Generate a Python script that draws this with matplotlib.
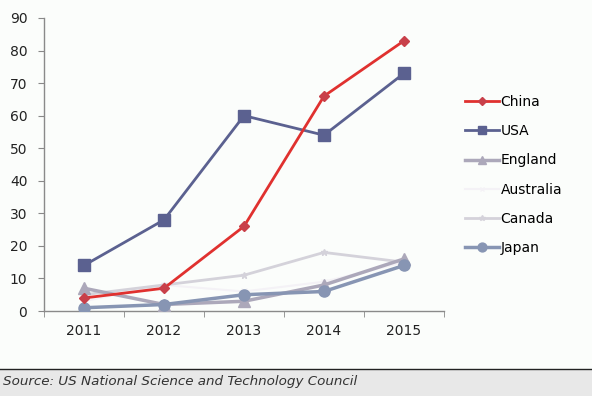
import matplotlib
matplotlib.use('Agg')
import matplotlib.pyplot as plt
from matplotlib.patches import Rectangle

# data
years = ["2011", "2012", "2013", "2014", "2015"]
china = [4, 7, 26, 66, 83]
usa = [14, 28, 60, 54, 73]
england = [7, 2, 3, 8, 16]
australia = [3, 8, 6, 9, 15]
canada = [5, 8, 11, 18, 15]
japan = [1, 2, 5, 6, 14]

fig = plt.figure(figsize=(5.92, 3.96), dpi=100)
fig.patch.set_facecolor("#fbfdfb")
ax = fig.add_axes([0.0743, 0.2146, 0.6757, 0.74])
ax.set_facecolor("none")

x = range(len(years))
ax.plot(x, australia, color="#f4f2f6", lw=1.5, marker="x", ms=4, label="Australia", zorder=2)
ax.plot(x, canada, color="#d4d2da", lw=2, marker="*", ms=5, label="Canada", zorder=3)
ax.plot(x, england, color="#aca8ba", lw=2.5, marker="^", ms=8, label="England", zorder=4)
ax.plot(x, japan, color="#8795b3", lw=2.5, marker="o", ms=8, label="Japan", zorder=5)
ax.plot(x, usa, color="#5b6190", lw=2, marker="s", ms=8, label="USA", zorder=6)
ax.plot(x, china, color="#e0312f", lw=2, marker="D", ms=5, mfc="#c8404a", mec="#c8404a",
        label="China", zorder=7)

ax.set_xlim(-0.5, 4.5)
ax.set_ylim(0, 90)
ax.set_yticks(range(0, 91, 10))
ax.set_xticks(list(x))
ax.set_xticklabels(years, fontsize=10, color="#222222")
ax.set_xticks([i - 0.5 for i in range(6)], minor=True)
ax.tick_params(axis="x", which="major", length=0, pad=9)
ax.tick_params(axis="x", which="minor", length=4, color="#888888", direction="out")
ax.tick_params(axis="y", length=4, color="#888888", labelsize=10, labelcolor="#222222", pad=8)
for s in ["top", "right"]:
    ax.spines[s].set_visible(False)
for s in ["left", "bottom"]:
    ax.spines[s].set_color("#8a8a8a")
    ax.spines[s].set_linewidth(1)

handles, labels = ax.get_legend_handles_labels()
order = ["China", "USA", "England", "Australia", "Canada", "Japan"]
hmap = dict(zip(labels, handles))
ax.legend([hmap[k] for k in order], order, loc="center left", bbox_to_anchor=(1.02, 0.464),
          frameon=False, fontsize=10, handlelength=2.5, handletextpad=0.1,
          labelspacing=1.1, markerscale=0.8)

# source band at the bottom
fig.patches.append(Rectangle((0, 0), 1, 27 / 396, transform=fig.transFigure,
                             facecolor="#e8e8e8", edgecolor="none", zorder=0))
fig.lines.append(plt.Line2D([0, 1], [27 / 396, 27 / 396], transform=fig.transFigure,
                            color="#222222", lw=1))
fig.text(0.005, 14 / 396, "Source: US National Science and Technology Council",
         fontsize=9.7, style="italic", color="#333333", va="center", ha="left")

fig.savefig("out.png", dpi=100, facecolor=fig.get_facecolor())
